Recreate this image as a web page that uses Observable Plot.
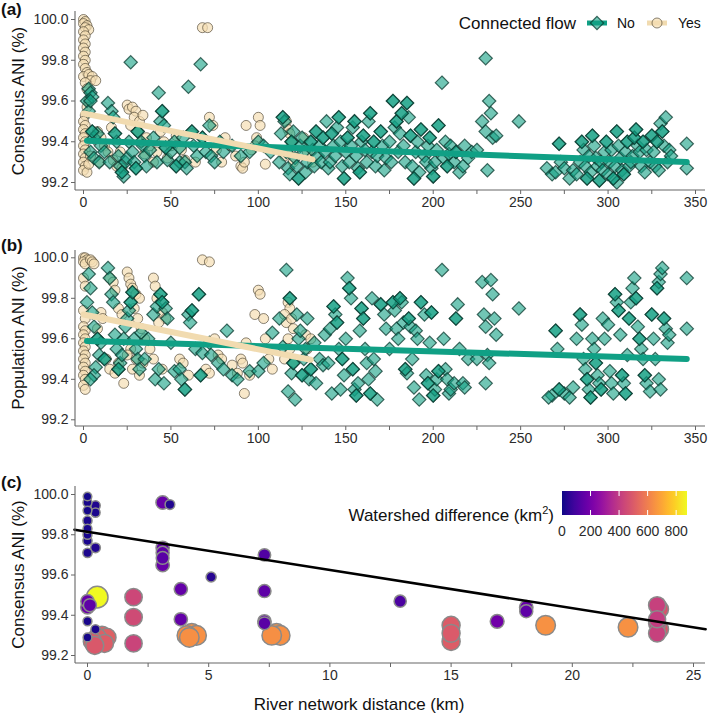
<!DOCTYPE html>
<html><head><meta charset="utf-8">
<script src="https://cdn.jsdelivr.net/npm/d3@7"></script>
<script src="https://cdn.jsdelivr.net/npm/@observablehq/plot@0.6"></script>
<style>
body{margin:0;background:#fff;}
#wrap{position:relative;width:709px;height:718px;font-family:"Liberation Sans",Arial,Helvetica,sans-serif;}
#wrap svg{position:absolute;left:0;overflow:visible;}
</style></head><body><div id="wrap"></div>
<script>
// ---------- DATA ----------
const xTicksAB = [0,25,50,75,100,125,150,175,200,225,250,275,300,325,350];
const xLabelsAB = [0,50,100,150,200,250,300,350];
const yTicks = [99.2,99.4,99.6,99.8,100.0];
const xTicksC = [0,2.5,5,7.5,10,12.5,15,17.5,20,22.5,25];
const xLabelsC = [0,5,10,15,20,25];
const wsLegendTicks = [0,200,400,600,800];
const wsMax = 876;

// Panel (a): consensus ANI vs river distance; connected flow = Yes
const aYes = [
[0,100.0],[1,99.99],[0,99.98],[2,99.97],[1,99.96],[3,99.95],[0,99.94],[1,99.92],[0,99.9],[1,99.88],[0,99.86],[1,99.84],[0,99.82],[1,99.8],[0,99.78],[1,99.76],[2,99.74],[0,99.72],[3,99.73],[5,99.72],[4,99.7],[7,99.7],[1,99.69],[2,99.66],
[3,99.6],[2,99.57],[1,99.53],[0,99.5],[1,99.48],[0,99.46],[1,99.44],[0,99.42],[1,99.4],[0,99.38],[1,99.36],[0,99.34],[1,99.32],[0,99.3],[1,99.28],[0,99.26],[2,99.25],[3,99.29],[4,99.33],
[8,99.45],[10,99.42],[12,99.38],[9,99.3],[14,99.35],[17,99.31],[19,99.28],[21,99.35],[16,99.47],[22,99.27],
[25,99.58],[26,99.56],[28,99.57],[30,99.55],[29,99.52],[32,99.5],[34,99.53],[27,99.48],[31,99.45],[33,99.4],[36,99.42],[38,99.38],[35,99.34],[40,99.3],[42,99.35],[44,99.45],[46,99.4],[48,99.32],[50,99.38],[53,99.43],[56,99.36],[58,99.31],[62,99.44],[64,99.3],
[68,99.96],[71,99.96],
[72,99.52],[74,99.48],[76,99.36],[79,99.3],[81,99.42],[84,99.38],[87,99.33],[90,99.28],[91,99.27],[92,99.3],[93,99.48],[96,99.36],
[100,99.52],[101,99.48],[99,99.42],[98,99.38],[104,99.29],
[116,99.5],[117,99.46],[118,99.44],[119,99.4],[117,99.36],[115,99.33],[120,99.3],[126,99.42],[128,99.35],[131,99.3]
];
// Panel (a): connected flow = No
const aNo = [
[2,99.6],[3,99.66],[4,99.64],[5,99.62],[3,99.55],[4,99.6],[5,99.45],[6,99.42],[8,99.44],[4,99.35],[6,99.32],[9,99.3],[10,99.38],[12,99.35],[14,99.59],[16,99.55],[17,99.52],[18,99.44],[19,99.4],[15,99.3],[20,99.33],[21,99.28],[22,99.25],[23,99.23],[24,99.3],[25,99.32],[27,99.79],[26,99.4],[28,99.35],[29,99.3],[30,99.27],[31,99.45],[33,99.4],[34,99.38],[35,99.33],[36,99.28],[38,99.36],[40,99.42],[42,99.3],[43,99.64],[44,99.5],[45,99.55],[46,99.48],[47,99.37],[48,99.31],[50,99.35],[52,99.4],[53,99.28],[55,99.37],[55,99.3],[57,99.42],[58,99.3],[60,99.67],[59,99.27],[62,99.45],[63,99.38],[65,99.33],[67,99.78],[68,99.42],[70,99.35],[72,99.48],[73,99.33],[75,99.3],[78,99.4],[80,99.35],[85,99.38],[90,99.33],[95,99.35],[100,99.4],[103,99.38],[107,99.35],
[5,99.45],[18,99.44],[22,99.25],[30,99.27],[31,99.45],[45,99.55],[47,99.37],[53,99.28],[62,99.45],[68,99.42],
[112,99.3],[113,99.44],[114,99.52],[115,99.5],[116,99.35],[117,99.27],[118,99.24],[119,99.4],[120,99.45],[121,99.32],[122,99.28],[123,99.22],[124,99.38],[125,99.42],[126,99.35],[127,99.25],[128,99.3],[130,99.4],[131,99.36],[132,99.28],[133,99.45],[134,99.33],[135,99.38],[136,99.3],[137,99.42],[138,99.35],[139,99.5],[140,99.27],[141,99.3],[142,99.44],[143,99.38],[144,99.33],[145,99.47],[146,99.52],[147,99.4],[148,99.28],[149,99.22],[150,99.35],[151,99.42],[152,99.3],[153,99.38],[154,99.47],[155,99.5],[156,99.33],[157,99.27],[158,99.25],[159,99.4],[160,99.43],[161,99.36],[162,99.3],[163,99.5],[164,99.54],[165,99.35],[166,99.4],[167,99.28],[168,99.33],[170,99.45],[171,99.38],[172,99.26],[173,99.32],[175,99.4],[176,99.3],[177,99.6],[178,99.47],[179,99.5],[180,99.35],[181,99.44],[182,99.54],[183,99.38],[184,99.3],[185,99.59],[186,99.52],[187,99.43],[188,99.28],[189,99.22],[190,99.35],[191,99.4],[192,99.25],[193,99.46],[195,99.33],[196,99.3],[197,99.38],[198,99.42],[199,99.27],[200,99.23],[201,99.3],[202,99.36],[203,99.48],[205,99.69],[206,99.32],[207,99.4],[208,99.28],[209,99.34],[210,99.38],[212,99.3],[213,99.35],[215,99.25],[217,99.28],[218,99.38],[220,99.32],[222,99.35],[225,99.36],[228,99.5],[230,99.81],[230,99.45],[231,99.26],[232,99.6],[233,99.54],[234,99.42],[236,99.43],[249,99.5],
[114,99.52],[119,99.4],[123,99.22],[130,99.4],[133,99.45],[137,99.42],[142,99.44],[146,99.52],[149,99.22],[151,99.42],[155,99.5],[158,99.25],[160,99.43],[164,99.54],[166,99.4],[170,99.45],[177,99.6],[179,99.5],[182,99.54],[185,99.59],[187,99.43],[189,99.22],[193,99.46],[198,99.42],[200,99.23],[203,99.48],[208,99.28],[213,99.35],
[265,99.27],[268,99.24],[270,99.25],[272,99.39],[273,99.3],[275,99.27],[278,99.22],[280,99.26],[282,99.24],[284,99.3],[285,99.4],[286,99.36],[287,99.28],[288,99.22],[289,99.33],[290,99.25],[291,99.43],[292,99.38],[293,99.32],[294,99.28],[295,99.21],[296,99.3],[297,99.26],[298,99.35],[299,99.4],[300,99.24],[301,99.3],[302,99.36],[303,99.22],[304,99.28],[305,99.45],[306,99.38],[307,99.32],[308,99.26],[309,99.24],[310,99.35],[311,99.4],[312,99.28],[313,99.3],[314,99.33],[315,99.42],[316,99.46],[317,99.38],[318,99.35],[319,99.28],[320,99.4],[321,99.25],[322,99.36],[324,99.3],[325,99.43],[326,99.35],[327,99.28],[328,99.4],[330,99.49],[331,99.45],[332,99.38],[333,99.52],[334,99.3],[335,99.36],[336,99.33],[345,99.39],[345,99.27],[329,99.26],[305,99.2],
[272,99.39],[285,99.4],[288,99.22],[291,99.43],[295,99.21],[299,99.4],[303,99.22],[305,99.45],[309,99.24],[311,99.4],[315,99.42],[316,99.46],[320,99.4],[325,99.43],[328,99.4],[331,99.45]
];
// Panel (b): population ANI; Yes
const bYes = [
[0,100.0],[1,100.0],[2,99.99],[0,99.98],[1,99.97],[4,99.99],[5,99.98],[6,99.97],[0,99.9],[1,99.86],[0,99.74],[1,99.7],[0,99.66],[1,99.64],[0,99.62],[1,99.6],[0,99.58],[1,99.56],[0,99.54],[1,99.52],[0,99.5],[1,99.48],[0,99.46],[1,99.44],[0,99.42],[1,99.4],[0,99.37],[1,99.35],
[10,99.73],[11,99.7],[8,99.65],
[15,99.9],[17,99.88],[18,99.84],[20,99.75],[22,99.72],[13,99.5],[15,99.45],[18,99.43],[20,99.48],[23,99.38],
[25,99.93],[26,99.9],[27,99.87],[28,99.85],[30,99.82],[32,99.8],[29,99.75],[31,99.7],[33,99.65],[35,99.6],[27,99.55],[30,99.5],[25,99.52],[28,99.45],[32,99.42],[34,99.48],
[40,99.9],[41,99.86],[42,99.8],[45,99.73],[47,99.7],[43,99.68],[38,99.55],[40,99.5],[45,99.45],
[55,99.5],[57,99.48],[60,99.42],
[68,99.99],[72,99.98],
[70,99.45],[72,99.43],[75,99.6],[77,99.52],[79,99.5],[85,99.47],[88,99.43],[90,99.5],[91,99.48],[92,99.33],[93,99.58],[95,99.42],
[100,99.84],[101,99.82],[98,99.72],[103,99.7],[104,99.6],[106,99.5],[108,99.45],
[117,99.78],[118,99.75],[115,99.72],[116,99.68],[119,99.7],[120,99.65],[117,99.6],[118,99.55],[115,99.5],[120,99.48],[127,99.62],[130,99.6],[128,99.55]
];
// Panel (b): No
const bNo = [
[3,99.92],[4,99.85],[2,99.78],[5,99.73],[6,99.66],[8,99.6],[9,99.52],[7,99.46],[6,99.42],[4,99.4],[10,99.58],[12,99.5],[14,99.95],[15,99.9],[16,99.82],[17,99.78],[18,99.62],[19,99.55],[20,99.45],[21,99.48],[22,99.52],[23,99.6],[24,99.66],[25,99.7],[26,99.74],[27,99.78],[28,99.83],[29,99.6],[30,99.55],[31,99.5],[32,99.45],[33,99.63],[35,99.5],[37,99.6],[40,99.72],[41,99.4],[42,99.76],[43,99.45],[44,99.82],[45,99.78],[46,99.38],[47,99.75],[48,99.7],[50,99.58],[52,99.44],[55,99.45],[56,99.4],[58,99.35],[60,99.72],[61,99.68],[62,99.74],[64,99.55],[66,99.82],[67,99.42],[68,99.53],[72,99.58],[73,99.52],[77,99.48],[80,99.45],[82,99.64],[85,99.42],[88,99.4],[95,99.44],[100,99.44],[103,99.48],[108,99.63],
[8,99.6],[12,99.5],[20,99.45],[27,99.78],[28,99.83],[44,99.82],[45,99.78],[58,99.35],[62,99.74],[66,99.82],[67,99.42],
[112,99.7],[114,99.56],[116,99.94],[117,99.34],[118,99.8],[119,99.43],[120,99.48],[121,99.3],[122,99.72],[123,99.6],[124,99.64],[125,99.42],[126,99.5],[127,99.55],[128,99.7],[129,99.4],[130,99.45],[132,99.58],[133,99.38],[135,99.5],[137,99.47],[138,99.62],[140,99.48],[141,99.65],[142,99.33],[143,99.76],[144,99.72],[145,99.68],[146,99.55],[147,99.35],[148,99.5],[149,99.42],[150,99.6],[151,99.9],[152,99.85],[153,99.8],[154,99.45],[155,99.35],[156,99.32],[157,99.38],[158,99.64],[159,99.75],[160,99.7],[161,99.55],[162,99.48],[163,99.4],[164,99.33],[165,99.8],[166,99.5],[167,99.44],[168,99.3],[170,99.77],[172,99.72],[173,99.65],[175,99.55],[177,99.78],[178,99.74],[179,99.65],[180,99.6],[181,99.8],[182,99.78],[183,99.68],[184,99.45],[185,99.43],[186,99.7],[187,99.66],[188,99.5],[189,99.36],[190,99.64],[191,99.6],[192,99.3],[193,99.78],[195,99.72],[196,99.42],[197,99.38],[198,99.58],[199,99.73],[200,99.32],[201,99.35],[202,99.4],[203,99.44],[205,99.94],[206,99.6],[207,99.45],[208,99.4],[209,99.33],[210,99.35],[212,99.38],[213,99.7],[214,99.77],[215,99.55],[217,99.38],[218,99.36],[220,99.5],[225,99.5],[228,99.88],[229,99.72],[230,99.66],[231,99.52],[232,99.48],[233,99.89],[234,99.82],[235,99.7],[236,99.62],[230,99.38],[249,99.75],
[118,99.8],[120,99.48],[125,99.42],[130,99.45],[143,99.76],[145,99.68],[148,99.5],[152,99.85],[154,99.45],[156,99.32],[159,99.75],[160,99.7],[164,99.33],[170,99.77],[177,99.78],[181,99.8],[184,99.45],[186,99.7],[193,99.78],[197,99.38],[199,99.73],[200,99.32],[203,99.44],[213,99.7],
[270,99.64],[271,99.55],[268,99.32],[272,99.35],[266,99.31],[275,99.33],[278,99.31],[280,99.36],[282,99.6],[284,99.72],[285,99.67],[286,99.5],[287,99.45],[288,99.4],[289,99.35],[290,99.31],[291,99.6],[292,99.55],[293,99.48],[294,99.42],[295,99.38],[296,99.35],[297,99.7],[298,99.6],[300,99.67],[301,99.44],[302,99.38],[303,99.33],[304,99.82],[305,99.78],[306,99.74],[307,99.62],[308,99.42],[309,99.38],[310,99.33],[311,99.52],[312,99.7],[313,99.78],[314,99.85],[315,99.9],[316,99.8],[317,99.66],[318,99.6],[319,99.55],[320,99.5],[321,99.42],[322,99.38],[324,99.34],[325,99.72],[326,99.6],[327,99.5],[328,99.85],[329,99.88],[330,99.92],[331,99.95],[332,99.7],[333,99.65],[334,99.58],[335,99.62],[329,99.4],[330,99.35],[345,99.9],[345,99.65],
[270,99.64],[272,99.35],[284,99.72],[288,99.4],[290,99.31],[293,99.48],[296,99.35],[304,99.82],[306,99.74],[308,99.42],[310,99.33],[312,99.7],[316,99.8],[318,99.6],[321,99.42],[325,99.72],[328,99.85],[332,99.7]
];
// Linear fits (intercept, slope)
const aFitNo = [99.406, -0.000306];
const aFitYes = [99.539, -0.00172];
const bFitNo = [99.59, -0.00026];
const bFitYes = [99.72, -0.00172];

// Panel (c): river network distance (km), consensus ANI (%), watershed difference (km²)
const cDist = [0,0,0,0,0,0,0,0,0.33,0.33,0.33,3.4,5.1,
  0,0.1,0,3.1,3.1,3.1,3.1,3.1,3.85,3.85,7.3,7.3,7.3,7.3,12.9,16.9,18.1,18.1,
  1.9,1.9,1.9,
  0.2,0.4,0.6,0.3,0.7,0.8,15,15,15,
  4.1,4.3,4.5,4.2,7.6,7.8,7.95,18.9,22.3,
  23.6,23.5,23.6,23.5,23.5,23.5,
  0,0.33,0,0.4];
const cAni = [99.99,99.96,99.92,99.87,99.83,99.80,99.77,99.71,99.945,99.91,99.735,99.95,99.59,
  99.47,99.45,99.44,99.96,99.735,99.71,99.685,99.65,99.53,99.38,99.70,99.52,99.37,99.36,99.47,99.37,99.44,99.42,
  99.49,99.39,99.26,
  99.27,99.29,99.3,99.25,99.26,99.29,99.35,99.31,99.27,
  99.3,99.31,99.3,99.29,99.3,99.31,99.3,99.35,99.34,
  99.43,99.45,99.33,99.38,99.36,99.31,
  99.37,99.33,99.29,99.49];
const cWs = [10,15,12,18,14,16,20,22,25,20,30,30,40,
  170,150,180,170,160,150,140,170,160,160,120,150,160,140,110,190,170,150,
  440,450,430,
  500,510,520,490,505,515,500,495,505,
  640,650,645,640,640,650,645,650,650,
  480,420,490,410,420,420,
  15,18,12,876];
const cFit = [99.815, -0.0190];
const cFitRange = [-0.54, 25.5];

// ---------- STYLE ----------
const FONT = '"Liberation Sans", Arial, Helvetica, sans-serif';
const TEAL = "#13a084", TEAL_LINE = "#10a085", TEAL_STROKE = "#093a2f";
const WHEAT = "#f5deb3", WHEAT_LINE = "#f1dbb0", WHEAT_STROKE = "#3d3525";
const AXIS = "#666", TXT = "#2b2b2b";
const wrap = document.getElementById("wrap");

function fitLine(pts, fit, range) {
  const xs = range || d3.extent(pts, d => d[0]);
  return xs.map(x => ({x, y: fit[0] + fit[1] * x}));
}

function addFrame(svg, left, top, bottom, right) {
  const s = d3.select(svg);
  s.append("line").attr("x1", left).attr("x2", left).attr("y1", top).attr("y2", bottom)
    .attr("stroke", AXIS).attr("stroke-width", 1.1);
  s.append("line").attr("x1", left).attr("x2", right).attr("y1", bottom).attr("y2", bottom)
    .attr("stroke", AXIS).attr("stroke-width", 1.1);
}
function addText(svg, txt, x, y, opts = {}) {
  const t = d3.select(svg).append("text").attr("x", x).attr("y", y)
    .attr("font-family", FONT).attr("font-size", opts.size || 17)
    .attr("fill", opts.fill || "#111").attr("text-anchor", opts.anchor || "start")
    .text(txt);
  if (opts.bold) t.attr("font-weight", "bold");
  if (opts.rotate) t.attr("transform", `rotate(-90,${x},${y})`).attr("dy", "0.35em");
  return t;
}

function scatterPanel(cfg) {
  const {noPts, yesPts, noFit, yesFit, height, yTop, yBot, axisPx, topPx} = cfg;
  const svg = Plot.plot({
    width: 709, height,
    marginLeft: 75, marginRight: 4, marginTop: topPx, marginBottom: height - axisPx,
    style: {fontFamily: FONT, fontSize: "14px", color: TXT, background: "transparent"},
    x: {domain: [0, 350], range: [83, 695]},
    y: {domain: [99.2, 100], range: [yBot, yTop]},
    marks: [
      Plot.axisY({ticks: yTicks, tickFormat: d3.format(".1f"), tickSize: 4, tickPadding: 3, stroke: AXIS, fill: TXT, label: null}),
      Plot.axisX({ticks: xTicksAB, tickFormat: d => xLabelsAB.includes(d) ? String(d) : "", tickSize: 4, tickPadding: 3, stroke: AXIS, fill: TXT, label: null}),
      Plot.dot(yesPts, {x: d => d[0], y: d => d[1], r: 5, fill: WHEAT, fillOpacity: 0.7, stroke: WHEAT_STROKE, strokeOpacity: 0.6, strokeWidth: 1}),
      Plot.dot(noPts, {x: d => d[0], y: d => d[1], symbol: "diamond2", r: 6, fill: TEAL, fillOpacity: 0.6, stroke: TEAL_STROKE, strokeOpacity: 0.75, strokeWidth: 1.2}),
      Plot.line(fitLine(noPts, noFit), {x: "x", y: "y", stroke: TEAL_LINE, strokeWidth: 6}),
      Plot.line(fitLine(yesPts, yesFit), {x: "x", y: "y", stroke: WHEAT_LINE, strokeWidth: 6})
    ]
  });
  addFrame(svg, 75, topPx, axisPx, 705);
  return svg;
}

// ---------- PANEL (a) ----------
const svgA = scatterPanel({noPts: aNo, yesPts: aYes, noFit: aFitNo, yesFit: aFitYes,
  height: 228, yTop: 19, yBot: 182, axisPx: 190, topPx: 11});
svgA.style.top = "0px";
wrap.appendChild(svgA);
addText(svgA, "(a)", 1, 15, {bold: true, size: 17});
addText(svgA, "Consensus ANI (%)", 18, 101, {rotate: true, anchor: "middle"});
// legend
{
  const s = d3.select(svgA);
  addText(svgA, "Connected flow", 576, 29, {anchor: "end"});
  s.append("line").attr("x1", 587).attr("x2", 607).attr("y1", 23).attr("y2", 23).attr("stroke", TEAL_LINE).attr("stroke-width", 5);
  s.append("path").attr("d", d3.symbol(d3.symbolDiamond2, Math.PI * 36)()).attr("transform", "translate(597,23)")
    .attr("fill", TEAL).attr("fill-opacity", 0.6).attr("stroke", TEAL_STROKE).attr("stroke-opacity", 0.75).attr("stroke-width", 1.2);
  addText(svgA, "No", 617, 28, {size: 14});
  s.append("line").attr("x1", 647).attr("x2", 667).attr("y1", 23).attr("y2", 23).attr("stroke", WHEAT_LINE).attr("stroke-width", 5);
  s.append("circle").attr("cx", 657).attr("cy", 23).attr("r", 5)
    .attr("fill", WHEAT).attr("fill-opacity", 0.7).attr("stroke", WHEAT_STROKE).attr("stroke-opacity", 0.6);
  addText(svgA, "Yes", 678, 28, {size: 14});
}

// ---------- PANEL (b) ----------
const svgB = scatterPanel({noPts: bNo, yesPts: bYes, noFit: bFitNo, yesFit: bFitYes,
  height: 238, yTop: 29.3, yBot: 191.3, axisPx: 198, topPx: 22});
svgB.style.top = "228px";
wrap.appendChild(svgB);
addText(svgB, "(b)", 1, 23, {bold: true, size: 17});
addText(svgB, "Population ANI (%)", 18, 110, {rotate: true, anchor: "middle"});

// ---------- PANEL (c) ----------
const cData = cDist.map((d, i) => ({dist: d, ani: cAni[i], ws: cWs[i]}));
const svgC = Plot.plot({
  width: 709, height: 252,
  marginLeft: 75, marginRight: 4, marginTop: 20, marginBottom: 55,
  style: {fontFamily: FONT, fontSize: "14px", color: TXT, background: "transparent"},
  x: {domain: [0, 25], range: [87, 693]},
  y: {domain: [99.2, 100], range: [189, 28]},
  color: {type: "linear", domain: [0, wsMax], interpolate: d3.interpolatePlasma},
  r: {type: "sqrt", domain: [0, wsMax], range: [3.5, 10.8]},
  marks: [
    Plot.axisY({ticks: yTicks, tickFormat: d3.format(".1f"), tickSize: 4, tickPadding: 3, stroke: AXIS, fill: TXT, label: null}),
    Plot.axisX({ticks: xTicksC, tickFormat: d => xLabelsC.includes(d) ? String(d) : "", tickSize: 4, tickPadding: 3, stroke: AXIS, fill: TXT, label: null}),
    Plot.dot(cData, {x: "dist", y: "ani", r: "ws", fill: "ws", stroke: "#8a8a8a", strokeWidth: 1.5}),
    Plot.line(fitLine(null, cFit, cFitRange), {x: "x", y: "y", stroke: "#000", strokeWidth: 2.5})
  ]
});
svgC.style.top = "466px";
wrap.appendChild(svgC);
addFrame(svgC, 75, 20, 197, 705);
addText(svgC, "(c)", 1, 22, {bold: true, size: 17});
addText(svgC, "Consensus ANI (%)", 18, 108.5, {rotate: true, anchor: "middle"});
addText(svgC, "River network distance (km)", 359, 244, {anchor: "middle"});
// colour bar legend
{
  const s = d3.select(svgC);
  const bx = 562, by = 25, bw = 125, bh = 24;
  const grad = s.append("defs").append("linearGradient").attr("id", "plasmaGrad");
  d3.range(0, 1.001, 0.05).forEach(t => grad.append("stop").attr("offset", t).attr("stop-color", d3.interpolatePlasma(t)));
  s.append("rect").attr("x", bx).attr("y", by).attr("width", bw).attr("height", bh).attr("fill", "url(#plasmaGrad)");
  const lx = v => bx + v / wsMax * bw;
  wsLegendTicks.forEach(v => {
    if (v > 0) {
      s.append("line").attr("x1", lx(v)).attr("x2", lx(v)).attr("y1", by).attr("y2", by + 5).attr("stroke", "#fff");
      s.append("line").attr("x1", lx(v)).attr("x2", lx(v)).attr("y1", by + bh - 5).attr("y2", by + bh).attr("stroke", "#fff");
    }
    addText(svgC, String(v), lx(v), 70, {size: 14, anchor: "middle", fill: TXT});
  });
  const t = addText(svgC, "", 554, 55, {anchor: "end"});
  t.append("tspan").text("Watershed difference (km");
  t.append("tspan").attr("font-size", 11).attr("dy", -7).text("2");
  t.append("tspan").attr("dy", 7).text(")");
}
</script></body></html>
